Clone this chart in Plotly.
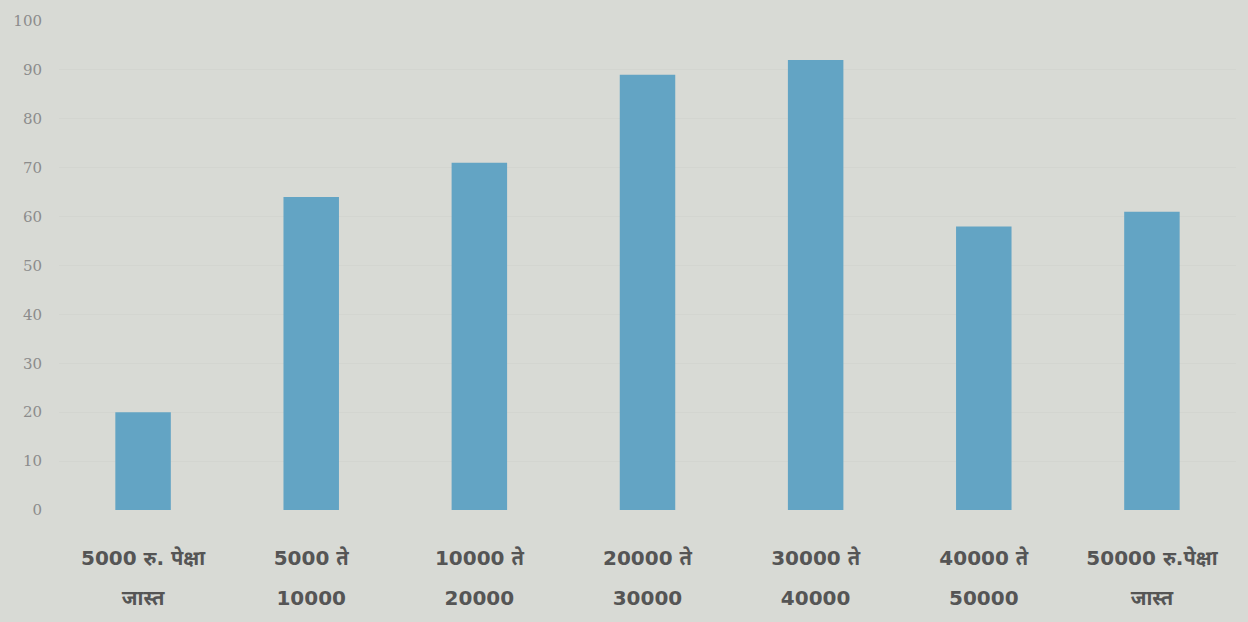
import plotly.graph_objects as go

line1 = ["5000 रु. पेक्षा", "5000 ते", "10000 ते", "20000 ते", "30000 ते", "40000 ते", "50000 रु.पेक्षा"]
line2 = ["जास्त", "10000", "20000", "30000", "40000", "50000", "जास्त"]
values = [20, 64, 71, 89, 92, 58, 61]
y_ticks = [0, 10, 20, 30, 40, 50, 60, 70, 80, 90, 100]

span = "<span style='font-size:20px'><b>{}</b></span>"
categories = [span.format(a) + "<br><br>" + span.format(b) for a, b in zip(line1, line2)]

fig = go.Figure(
    go.Bar(
        x=categories,
        y=values,
        marker=dict(color="#63a4c4", line=dict(width=0)),
        width=0.33,
    )
)

fig.update_layout(
    width=1248,
    height=622,
    margin=dict(l=59, r=12, t=17, b=110),
    paper_bgcolor="#d8dad5",
    plot_bgcolor="#d8dad5",
    showlegend=False,
)
fig.update_xaxes(
    showline=False,
    showgrid=False,
    zeroline=False,
    ticks="",
    ticklabelstandoff=39,
    tickfont=dict(family="DejaVu Sans, Noto Sans, sans-serif", size=15.4, color="#555555"),
)
fig.update_yaxes(
    range=[0, 100],
    tickvals=y_ticks,
    showline=False,
    showgrid=True,
    gridcolor="#d3d5d0",
    zeroline=False,
    ticks="",
    ticklabelstandoff=16,
    tickfont=dict(family="DejaVu Serif, Liberation Serif, serif", size=15, color="#8c8c8c"),
)

fig.write_html(
    "out.html",
    config={"displayModeBar": False},
    post_script="document.body.style.margin='0';",
)
